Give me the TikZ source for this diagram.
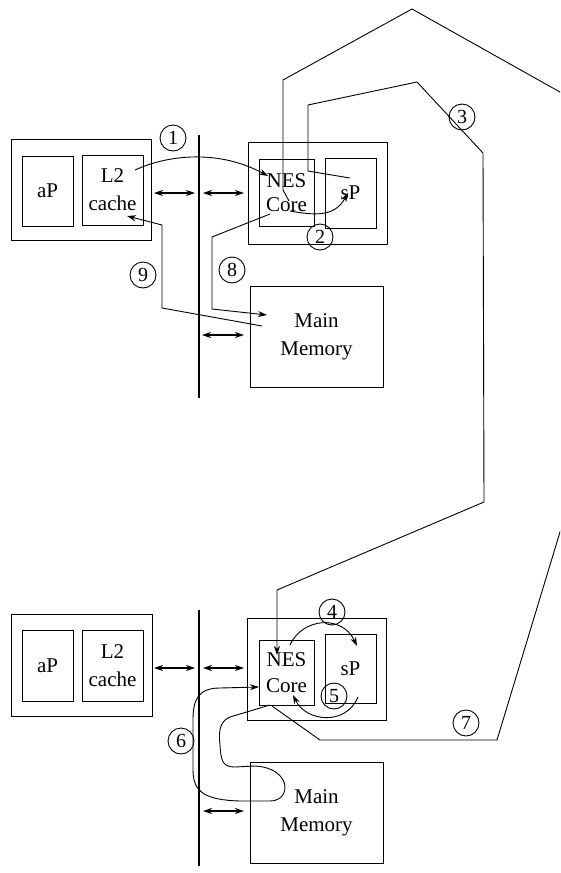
\documentclass[tikz,border=0pt]{standalone}
\usepackage{fontspec}
\setmainfont{Liberation Serif}
\usetikzlibrary{arrows.meta}
\begin{document}
\begin{tikzpicture}[x=1pt,y=-1pt,
  box/.style={draw, line width=1pt, inner sep=0pt, align=center, font=\fontsize{21}{28}\selectfont},
  num/.style={draw, circle, line width=0.9pt, minimum size=26pt, inner sep=0pt, font=\fontsize{20}{20}\selectfont},
  link/.style={line width=0.9pt},
  arr/.style={link, -{Stealth[length=9pt,width=6pt]}},
  dbl/.style={line width=1.1pt, {Stealth[length=9pt,width=6pt]}-{Stealth[length=9pt,width=6pt]}},
  bus/.style={line width=1.4pt}]
\useasboundingbox (0,0) rectangle (560,873);
\clip (0,0) rectangle (560,873);
% ---------- top half ----------
\node[box, minimum width=140pt, minimum height=101pt] (outL1) at (81,189.5) {};
\node[box, minimum width=51pt, minimum height=70pt] (aP1) at (47.5,191) {aP};
\node[box, minimum width=61pt, minimum height=70pt] (L21) at (112.5,190) {L2\\cache};
\node[box, minimum width=139pt, minimum height=102pt] (outR1) at (317.5,193) {};
\node[box, minimum width=55pt, minimum height=67pt, font=\fontsize{21}{24}\selectfont] (nes1) at (286.5,192.5) {NES\\Core};
\node[box, minimum width=51pt, minimum height=70pt] (sp1) at (350.5,193) {sP};
\node[box, minimum width=133pt, minimum height=101pt] (mem1) at (316.5,336.5) {Main\\Memory};
\coordinate (bt1) at (199,135);
\coordinate (bb1) at (199,398);
\draw[bus] (bt1) -- (bb1);
\coordinate (a1) at (154,193); \coordinate (a2) at (195,193);
\coordinate (a3) at (203,193); \coordinate (a4) at (244,193);
\coordinate (a5) at (202,335); \coordinate (a6) at (244,335);
\draw[dbl] (a1) -- (a2);
\draw[dbl] (a3) -- (a4);
\draw[dbl] (a5) -- (a6);
% numbers
\node[num] (n1) at (173,138) {1};
\node[num] (n2) at (320,237) {2};
\node[num] (n3) at (462,117) {3};
\node[num] (n8) at (232,270) {8};
\node[num] (n9) at (143,275) {9};
% path 1
\coordinate (p1s) at (135,170);
\coordinate (p1e) at (268,176);
\draw[arr] (p1s) .. controls (170,154) and (220,150) .. (p1e);
% path 2
\coordinate (p2s) at (290,211);
\coordinate (p2e) at (348,193);
\draw[arr] (p2s) .. controls (322,217) and (336,214) .. (p2e);
% path 3
\coordinate (p3s) at (350,178);
\coordinate (p3e) at (277,655);
\draw[arr] (p3s) -- (308,171) -- (308,105) -- (417,82) -- (483,153) -- (484,502) -- (277,590) -- (p3e);
% path 8
\coordinate (p8s) at (270,214);
\coordinate (p8e) at (267,315);
\draw[arr] (p8s) -- (212,237) -- (212,309) -- (p8e);
% path 9
\coordinate (p9s) at (262,326);
\coordinate (p9e) at (127,216);
\draw[arr] (p9s) -- (162,308) -- (162,225) -- (p9e);
% ---------- bottom half ----------
\node[box, minimum width=141pt, minimum height=102pt] (outL2) at (81.5,665) {};
\node[box, minimum width=51pt, minimum height=71pt] (aP2) at (47.5,666) {aP};
\node[box, minimum width=61pt, minimum height=71pt] (L22) at (112.5,665.5) {L2\\cache};
\node[box, minimum width=139pt, minimum height=102pt] (outR2) at (316.5,669) {};
\node[box, minimum width=55pt, minimum height=65pt, font=\fontsize{21}{26}\selectfont] (nes2) at (286.5,672.5) {NES\\Core};
\node[box, minimum width=51pt, minimum height=69pt] (sp2) at (350.5,668.5) {sP};
\node[box, minimum width=133pt, minimum height=101pt] (mem2) at (316.5,812.5) {Main\\Memory};
\coordinate (bt2) at (199,610);
\coordinate (bb2) at (199,866);
\draw[bus] (bt2) -- (bb2);
\coordinate (b1) at (154,668); \coordinate (b2) at (195,668);
\coordinate (b3) at (203,668); \coordinate (b4) at (244,668);
\coordinate (b5) at (203,811); \coordinate (b6) at (244,811);
\draw[dbl] (b1) -- (b2);
\draw[dbl] (b3) -- (b4);
\draw[dbl] (b5) -- (b6);
\node[num] (n4) at (332,612) {4};
\node[num] (n5) at (334,696) {5};
\node[num] (n6) at (181,741) {6};
\node[num] (n7) at (466,723) {7};
% path 4
\coordinate (p4s) at (290,645);
\coordinate (p4e) at (357,646);
\draw[arr] (p4s) .. controls (302,618) and (342,614) .. (p4e);
% path 5
\coordinate (p5s) at (358,697);
\coordinate (p5e) at (293,695);
\draw[arr] (p5s) .. controls (346,726) and (306,722) .. (p5e);
% path 6
\coordinate (p6s) at (270,705);
\coordinate (p6e) at (259,687);
\draw[arr] (p6s) -- (230,717) .. controls (218,722) and (219,735) .. (220,745)
  .. controls (221,760) and (222,767) .. (235,767) -- (255,766)
  .. controls (292,768) and (292,801) .. (270,801) -- (240,801)
  .. controls (205,800) and (193,792) .. (193,770) -- (193,720)
  .. controls (193,700) and (198,688) .. (220,688) -- (p6e);
% path 7
\coordinate (p7s) at (272,706);
\coordinate (p7e) at (289,201);
\draw[link] (p7s) -- (320,740) -- (497,740) -- (560,532) -- (674,156) -- (412,9) -- (283,80) -- (283,190) -- (p7e);
\end{tikzpicture}
\end{document}
